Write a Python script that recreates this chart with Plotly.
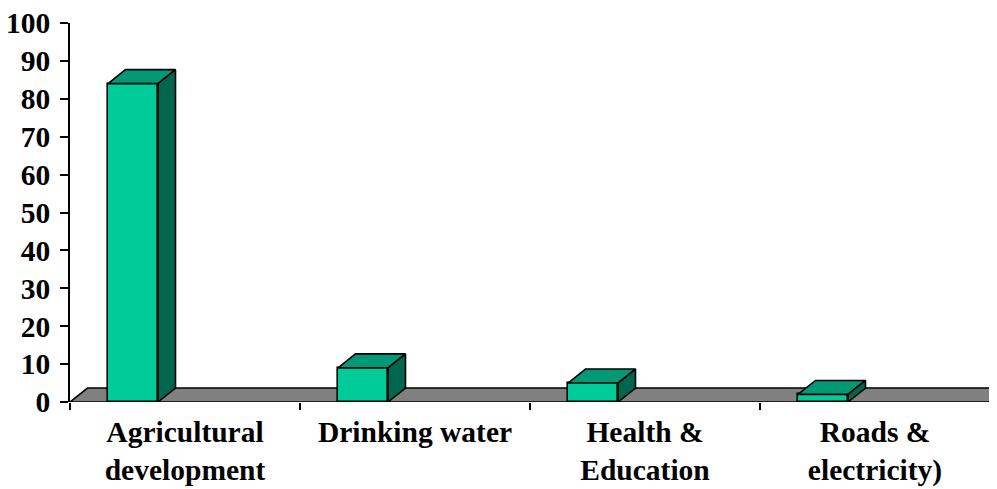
import plotly.graph_objects as go

categories = ["Agricultural<br>development", "Drinking water", "Health &<br>Education", "Roads &<br>electricity)"]
values = [84, 9, 5, 2]
y_ticks = [0, 10, 20, 30, 40, 50, 60, 70, 80, 90, 100]

# layout / style constants (page body has an 8px default margin)
OFF = 8
W, H = 997 - OFF, 489 - OFF
ML, MT = 70 - OFF, 22.7 - OFF
MB = H - (402 - OFF)
plot_w = W - ML
cat_px = 230.0
x_max = plot_w / cat_px
plot_h = H - MT - MB
px_per_unit = plot_h / 100.0
DX = 17.5 / cat_px
DY = 14.0 / px_per_unit
BAR_OFF = 38.0 / cat_px
BAR_W = 50.0 / cat_px

FRONT = "rgb(0,204,153)"
TOP = "rgb(0,153,118)"
SIDE = "rgb(0,102,77)"
FLOOR = "rgb(128,128,128)"
FONT = dict(family="Liberation Serif, Times New Roman, serif", size=29.5, color="black", weight="bold")

n = len(categories)
fig = go.Figure()

# front faces
fig.add_trace(go.Bar(
    x=[i + BAR_OFF + BAR_W / 2 for i in range(n)], y=values, width=BAR_W,
    marker=dict(color=FRONT, line=dict(color="black", width=1.6)),
    hoverinfo="skip", showlegend=False))

for i, v in enumerate(values):
    xl = i + BAR_OFF
    xr = xl + BAR_W
    # top face
    fig.add_trace(go.Scatter(
        x=[xl, xr, xr + DX, xl + DX, xl], y=[v, v, v + DY, v + DY, v],
        mode="lines", fill="toself", fillcolor=TOP,
        line=dict(color="black", width=1.6), hoverinfo="skip", showlegend=False))
    # side face
    fig.add_trace(go.Scatter(
        x=[xr, xr + DX, xr + DX, xr, xr], y=[0, DY, v + DY, v, 0],
        mode="lines", fill="toself", fillcolor=SIDE,
        line=dict(color="black", width=1.6), hoverinfo="skip", showlegend=False))

# floor
fig.add_shape(type="path", xref="x", yref="y", layer="below",
              path=f"M 0,0 L {n},0 L {n + DX},{DY} L {DX},{DY} Z",
              fillcolor=FLOOR, line=dict(color="black", width=1.6))

fig.update_layout(
    width=W, height=H,
    margin=dict(l=ML, r=0, t=MT, b=MB, pad=0, autoexpand=False),
    plot_bgcolor="white", paper_bgcolor="white",
    bargap=0,
    xaxis=dict(range=[0, x_max], showgrid=False, zeroline=False, showline=False,
               automargin=False, ticklabeloverflow="allow",
               tickvals=[i + 0.5 for i in range(n)], ticktext=categories,
               ticks="", tickfont=FONT, ticklabelstandoff=9,
               minor=dict(tick0=0, dtick=1, ticks="outside", ticklen=7,
                          tickwidth=1.6, tickcolor="black", showgrid=False),
               fixedrange=True),
    yaxis=dict(range=[0, 100], tickvals=y_ticks, showgrid=False, zeroline=False,
               automargin=False, ticklabeloverflow="allow",
               showline=True, linecolor="black", linewidth=1.6,
               ticks="outside", ticklen=8, tickwidth=1.6, tickcolor="black",
               tickfont=FONT, ticklabelstandoff=4, fixedrange=True),
)

fig.write_html("out.html")
